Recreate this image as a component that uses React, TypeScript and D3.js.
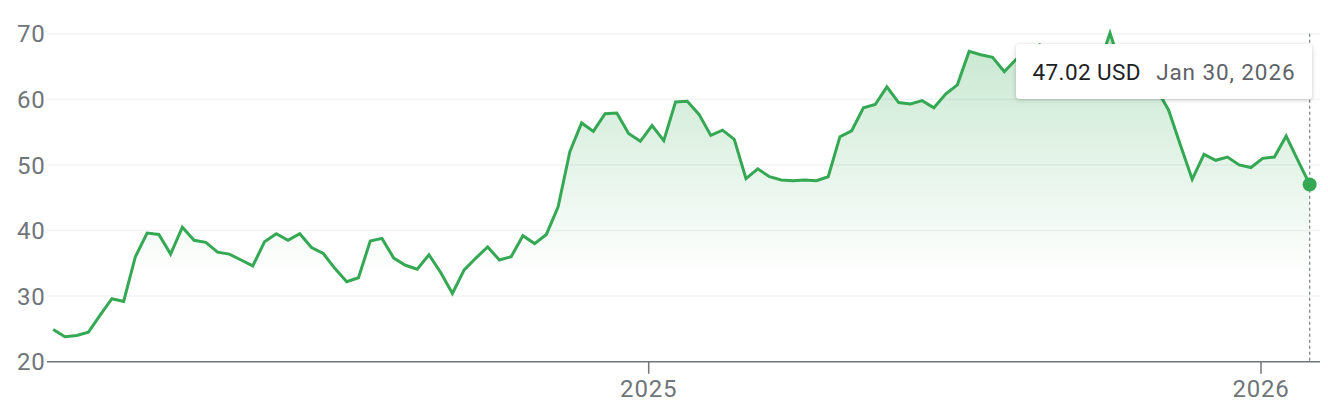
import React from "react";
import * as d3 from "d3";

const dates: string[] = [
  "2024-01-12","2024-01-19","2024-01-26","2024-02-02","2024-02-09","2024-02-16","2024-02-23",
  "2024-03-01","2024-03-08","2024-03-15","2024-03-22","2024-03-29","2024-04-05","2024-04-12",
  "2024-04-19","2024-04-26","2024-05-03","2024-05-10","2024-05-17","2024-05-24","2024-05-31",
  "2024-06-07","2024-06-14","2024-06-21","2024-06-28","2024-07-05","2024-07-12","2024-07-19",
  "2024-07-26","2024-08-02","2024-08-09","2024-08-16","2024-08-23","2024-08-30","2024-09-06",
  "2024-09-13","2024-09-20","2024-09-27","2024-10-04","2024-10-11","2024-10-18","2024-10-25",
  "2024-11-01","2024-11-08","2024-11-15","2024-11-22","2024-11-29","2024-12-06","2024-12-13",
  "2024-12-20","2024-12-27","2025-01-03","2025-01-10","2025-01-17","2025-01-24","2025-01-31",
  "2025-02-07","2025-02-14","2025-02-21","2025-02-28","2025-03-07","2025-03-14","2025-03-21",
  "2025-03-28","2025-04-04","2025-04-11","2025-04-18","2025-04-25","2025-05-02","2025-05-09",
  "2025-05-16","2025-05-23","2025-05-30","2025-06-06","2025-06-13","2025-06-20","2025-06-27",
  "2025-07-04","2025-07-11","2025-07-18","2025-07-25","2025-08-01","2025-08-08","2025-08-15",
  "2025-08-22","2025-08-29","2025-09-05","2025-09-12","2025-09-19","2025-09-26","2025-10-03",
  "2025-10-10","2025-10-17","2025-10-24","2025-10-31","2025-11-07","2025-11-14","2025-11-21",
  "2025-11-28","2025-12-05","2025-12-12","2025-12-19","2025-12-26","2026-01-02","2026-01-09",
  "2026-01-16","2026-01-23","2026-01-30",
];

const prices: number[] = [
  24.9, 23.8, 24.0, 24.5, 27.1, 29.6, 29.2, 36.0, 39.6, 39.4, 36.4, 40.5, 38.5, 38.2,
  36.7, 36.4, 35.5, 34.6, 38.3, 39.5, 38.5, 39.5, 37.4, 36.5, 34.2, 32.2, 32.8, 38.4,
  38.8, 35.8, 34.7, 34.1, 36.3, 33.6, 30.4, 34.0, 35.8, 37.5, 35.5, 36.0, 39.2, 38.0,
  39.4, 43.6, 52.0, 56.4, 55.1, 57.8, 57.9, 54.8, 53.6, 56.0, 53.7, 59.6, 59.7, 57.7,
  54.5, 55.3, 53.9, 47.9, 49.4, 48.2, 47.7, 47.6, 47.7, 47.6, 48.2, 54.3, 55.2, 58.7,
  59.2, 61.9, 59.5, 59.3, 59.8, 58.7, 60.8, 62.2, 67.3, 66.8, 66.4, 64.2, 66.1, 67.5,
  68.3, 66.0, 67.0, 65.5, 66.5, 64.8, 70.1, 64.5, 63.0, 62.5, 61.5, 58.3, 53.0, 47.8,
  51.6, 50.7, 51.2, 50.0, 49.6, 51.0, 51.2, 54.4, 50.7, 47.02,
];

const yTicks: number[] = [20, 30, 40, 50, 60, 70];
const xTickDates: string[] = ["2025-01-01", "2026-01-01"];
const xTickLabels: string[] = ["2025", "2026"];
const tooltipPrice = "47.02 USD";
const tooltipDate = "Jan 30, 2026";

const parse = d3.timeParse("%Y-%m-%d");

export default function App() {
  const W = 1328;
  const H = 402;
  const left = 47;
  const right = 1320;

  const x = d3
    .scaleTime()
    .domain([parse("2025-01-01") as Date, parse("2026-01-01") as Date])
    .range([648.7, 1261]);
  const y = d3.scaleLinear().domain([20, 70]).range([361.7, 33.7]);

  const data = dates.map((d, i) => ({ date: parse(d) as Date, v: prices[i] }));

  const line = d3
    .line<{ date: Date; v: number }>()
    .x((d) => x(d.date))
    .y((d) => y(d.v));
  const area = d3
    .area<{ date: Date; v: number }>()
    .x((d) => x(d.date))
    .y0(y(20))
    .y1((d) => y(d.v));

  const last = data[data.length - 1];
  const lx = x(last.date);
  const ly = y(last.v);

  const font = "Roboto, 'Open Sans', Arial, sans-serif";

  return (
    <svg
      width={W}
      height={H}
      style={{ position: "absolute", left: 0, top: 0, background: "#fff" }}
    >
      <defs>
        <linearGradient id="fillGrad" gradientUnits="userSpaceOnUse" x1="0" y1={y(70)} x2="0" y2={y(33)}>
          <stop offset="0" stopColor="#34a853" stopOpacity={0.28} />
          <stop offset="1" stopColor="#34a853" stopOpacity={0} />
        </linearGradient>
        <filter id="shadow" x="-10%" y="-30%" width="120%" height="170%">
          <feDropShadow dx="0" dy="1" stdDeviation="2" floodColor="#000" floodOpacity="0.22" />
        </filter>
      </defs>

      {yTicks.filter((t) => t !== 20).map((t) => (
        <line key={"g" + t} x1={left} x2={right} y1={y(t)} y2={y(t)} stroke="#f1f3f4" strokeWidth={1.5} />
      ))}

      <path d={area(data) || ""} fill="url(#fillGrad)" />

      <line x1={left} x2={right} y1={y(20)} y2={y(20)} stroke="#70757a" strokeWidth={1.5} />

      {yTicks.map((t) => (
        <text
          key={"yl" + t}
          x={45.5}
          y={y(t)}
          dy="0.36em"
          textAnchor="end"
          fontFamily={font}
          fontSize={24}
          letterSpacing={0.8}
          fill="#70757a"
        >
          {t}
        </text>
      ))}

      {xTickDates.map((d, i) => {
        const px = x(parse(d) as Date);
        return (
          <g key={"xt" + d}>
            <line x1={px} x2={px} y1={y(20)} y2={y(20) + 12} stroke="#70757a" strokeWidth={1.5} />
            <text
              x={px}
              y={397}
              textAnchor="middle"
              fontFamily={font}
              fontSize={24}
              letterSpacing={0.8}
              fill="#70757a"
            >
              {xTickLabels[i]}
            </text>
          </g>
        );
      })}

      <line x1={lx} x2={lx} y1={y(70)} y2={y(20)} stroke="#80868b" strokeWidth={1.3} strokeDasharray="3 3" />

      <path d={line(data) || ""} fill="none" stroke="#34a853" strokeWidth={3} strokeLinejoin="miter" />

      <circle cx={lx} cy={ly} r={7} fill="#34a853" />

      <g filter="url(#shadow)">
        <rect x={1016} y={44} width={296} height={55} rx={4} fill="#fff" />
      </g>
      <text x={1032.5} y={79.5} fontFamily={font} fontSize={22.5} letterSpacing={0.4} fill="#202124">
        {tooltipPrice}
      </text>
      <text x={1295.5} y={79.5} textAnchor="end" fontFamily={font} fontSize={22.5} letterSpacing={0.9} fill="#5f6368">
        {tooltipDate}
      </text>
    </svg>
  );
}
